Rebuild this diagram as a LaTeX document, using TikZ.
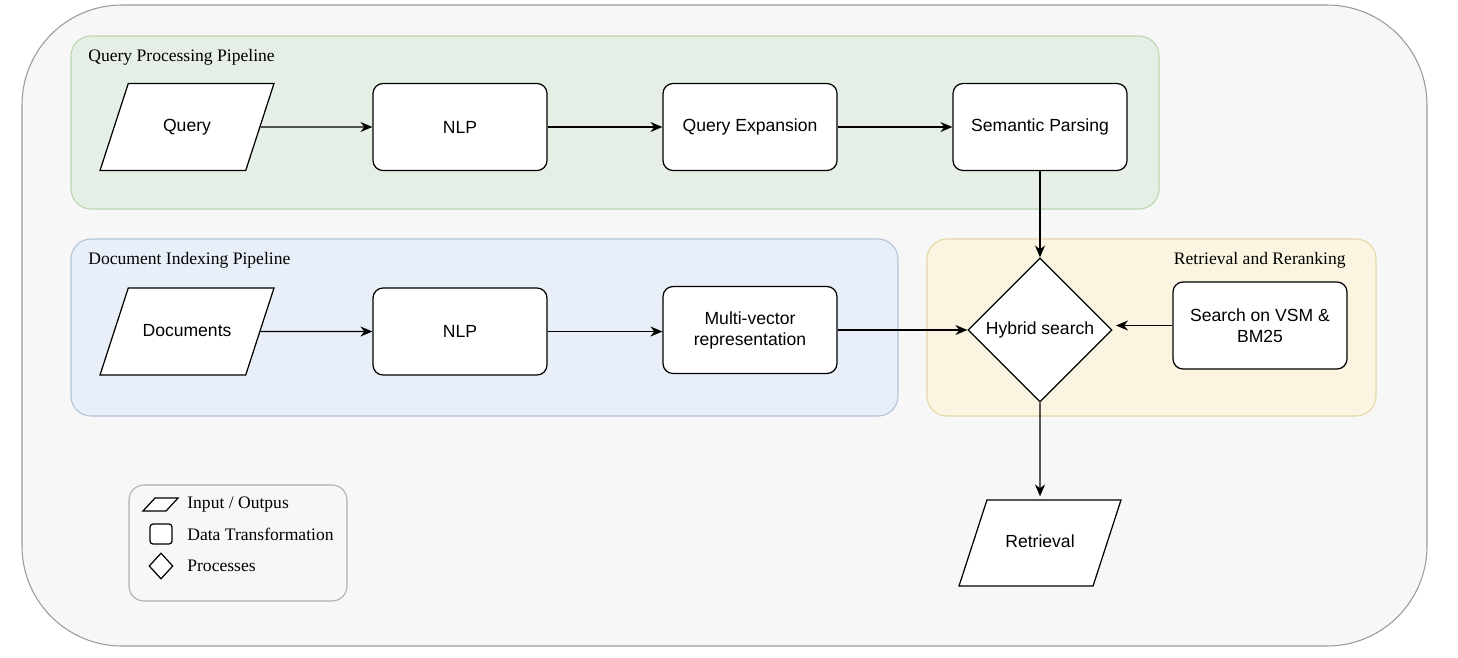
\documentclass[tikz,border=0pt]{standalone}
\usepackage{fontspec}
\setmainfont{Liberation Serif}
\newfontfamily\boxfont{Liberation Sans}
\usepackage{tikz}
\usetikzlibrary{positioning, arrows.meta, shapes.geometric}

\definecolor{bgfill}{HTML}{F7F7F7}
\definecolor{bgdraw}{HTML}{9A9A9A}
\definecolor{qfill}{HTML}{E6EFE5}
\definecolor{qdraw}{HTML}{BCD5AE}
\definecolor{dfill}{HTML}{E8EFF9}
\definecolor{ddraw}{HTML}{B2C2DB}
\definecolor{rfill}{HTML}{FBF4E1}
\definecolor{rdraw}{HTML}{E6D6A6}

\tikzset{
    io/.style={draw, line width=0.7pt, fill=white, trapezium, trapezium left angle=72, trapezium right angle=108, trapezium stretches body=true, text height=0.25cm, text depth=0.07cm, inner xsep=0pt, inner ysep=0.71cm, minimum width=3.48cm, font=\boxfont},
    trans/.style={draw, line width=0.7pt, fill=white, rectangle, rounded corners=0.2cm, minimum width=3.48cm, minimum height=1.74cm, align=center, font=\boxfont},
    proc/.style={draw, line width=0.7pt, fill=white, diamond, minimum width=2.88cm, minimum height=2.88cm, inner sep=0pt, font=\boxfont},
    flow/.style={-{Stealth[length=0.24cm, width=0.2cm]}, line width=0.7pt},
    panel/.style={line width=0.6pt, rounded corners=0.4cm},
    title/.style={anchor=west, inner sep=0pt}
}

\begin{document}
\begin{tikzpicture}[x=0.02cm, y=-0.02cm]
    \useasboundingbox (0,0) rectangle (1458,657);
    % background and pipelines
    \draw [fill=bgfill, draw=bgdraw, line width=0.6pt, rounded corners=2cm] (22,5) rectangle (1427,646);
    \draw [panel, fill=qfill, draw=qdraw] (71,36) rectangle (1159,209);
    \draw [panel, fill=dfill, draw=ddraw] (71,239) rectangle (898,416);
    \draw [panel, fill=rfill, draw=rdraw] (927,239) rectangle (1376,416);
    \node (qtitle) [title] at (88,57) {Query Processing Pipeline};
    \node (dtitle) [title] at (88,260) {Document Indexing Pipeline};
    \node (rtitle) [title, anchor=east] at (1346,260) {Retrieval and Reranking};

    % query pipeline
    \node (query) [io] at (187,127) {Query};
    \node (nlpq) [trans] at (460,127) {NLP};
    \node (expand) [trans] at (750,127) {Query Expansion};
    \node (parse) [trans] at (1040,127) {Semantic Parsing};

    % document pipeline
    \node (docs) [io] at (187,331.5) {Documents};
    \node (nlpd) [trans] at (460,331.5) {NLP};
    \node (multi) [trans] at (750,330) {Multi-vector\\representation};

    % retrieval
    \node (hybrid) [proc] at (1040,330) {Hybrid search};
    \node (vsm) [trans] at (1260,325.5) {Search on VSM \&\\BM25};
    \node (retr) [io, minimum width=3.24cm, inner ysep=0.7cm] at (1040,543) {Retrieval};
    \coordinate (vsmend) at (1116,325.5);

    \draw [flow] (query.east) -- (nlpq.west);
    \draw [flow] (nlpq) -- (expand);
    \draw [flow] (expand) -- (parse);
    \draw [flow] (docs.east) -- (nlpd.west);
    \draw [flow] (nlpd.east) -- (nlpd.east -| multi.west);
    \draw [flow] (parse.south) -- (hybrid.north);
    \draw [flow] (multi.east) -- (multi.east -| hybrid.west);
    \draw [flow] (vsm.west) -- (vsmend);
    \draw [flow] (hybrid.south) -- ([yshift=0.06cm]retr.north);

    % legend
    \draw [fill=bgfill, draw=bgdraw!80, line width=0.6pt, rounded corners=0.3cm] (129,485) rectangle (347,601);
    \draw [line width=0.7pt, fill=white] (155,498) -- (178,498) -- (166,511) -- (143,511) -- cycle;
    \node (ltrans) [draw, line width=0.7pt, fill=white, rounded corners=0.06cm, minimum width=0.44cm, minimum height=0.4cm, inner sep=0pt] at (161,534) {};
    \node (lproc) [draw, line width=0.7pt, fill=white, diamond, minimum width=0.48cm, minimum height=0.52cm, inner sep=0pt] at (161,566) {};
    \node (liotext) [title] at (187,505) {Input / Outpus};
    \node (ltranstext) [title] at (187,534) {Data Transformation};
    \node (lproctext) [title] at (187,566) {Processes};
\end{tikzpicture}
\end{document}
